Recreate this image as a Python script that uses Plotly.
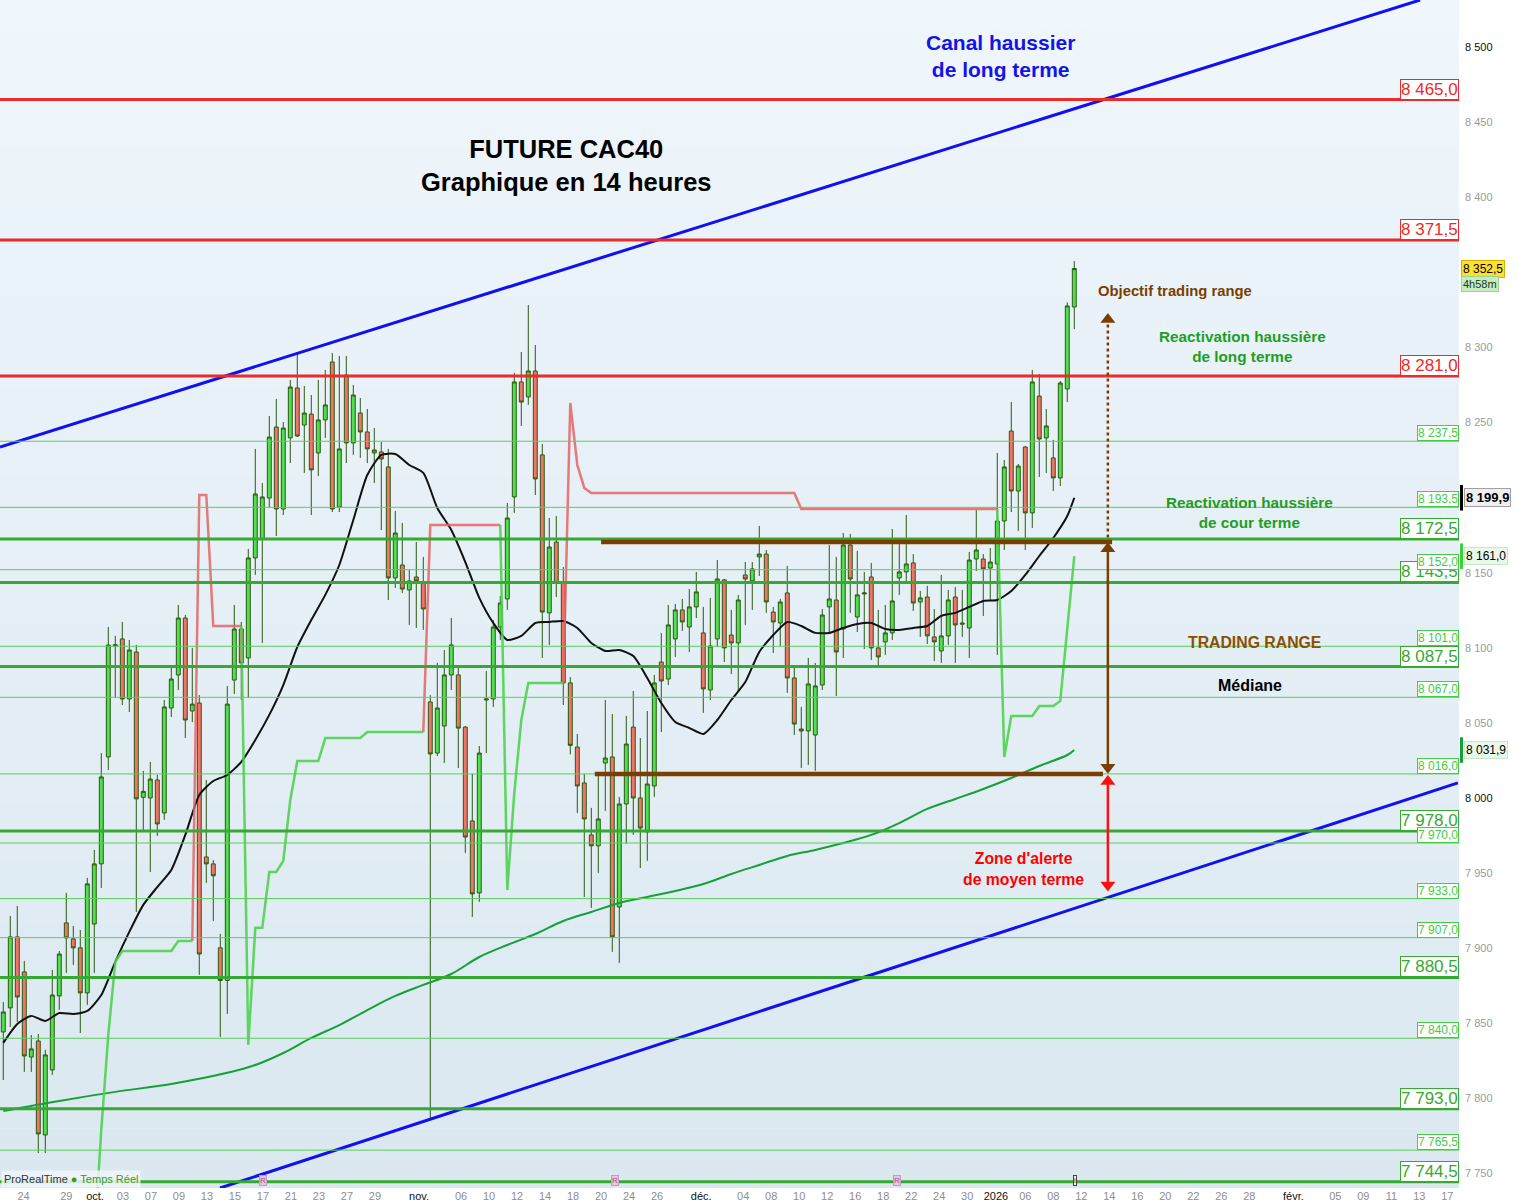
import plotly.graph_objects as go

FONT = "Liberation Sans, Arial, sans-serif"

# 14h candles, bar 0 = 22 sept. 2025 ... bar 153 = 9 janv. 2026 (bar index on the x axis)
opens = [
    7844.2, 7860.2, 7907.5, 7884.2, 7827.5, 7838.2, 7775.6, 7818.9, 7868.2, 7916.8,
    7906.2, 7900.2, 7870.2, 7916.1, 7956.1, 8027.3, 8101.2, 8105.9, 8065.9, 8097.2,
    8000.4, 8000.0, 8012.0, 7990.0, 8059.9, 8081.9, 8119.8, 8057.9, 8063.2, 7960.7,
    7956.1, 7900.2, 7878.5, 8078.5, 8112.5, 8093.2, 8159.8, 8172.4, 8199.7, 8247.0,
    8192.4, 8239.7, 8273.0, 8248.3, 8255.6, 8229.7, 8251.7, 8290.3, 8193.7, 8281.6,
    8236.4, 8256.3, 8243.7, 8229.7, 8230.4, 8220.4, 8146.5, 8155.1, 8138.5, 8147.1,
    8143.8, 8063.9, 8029.9, 8047.9, 8081.9, 8081.9, 8047.2, 7984.7, 7936.8, 8065.2,
    8065.9, 8113.8, 8132.5, 8200.4, 8277.0, 8267.0, 8284.3, 8228.4, 8123.2, 8170.4,
    8143.1, 8076.6, 8033.9, 8010.0, 7975.4, 7968.1, 8023.3, 8027.3, 7927.4, 7996.0,
    8047.2, 8000.0, 7977.4, 8008.0, 8090.5, 8079.2, 8105.9, 8125.2, 8113.8, 8127.2,
    8109.9, 8071.9, 8105.9, 8145.2, 8108.5, 8103.2, 8148.5, 8144.5, 8160.5, 8162.4,
    8123.8, 8116.5, 8136.5, 8079.9, 8045.9, 8044.6, 8041.9, 8075.2, 8127.2, 8131.8,
    8112.5, 8168.4, 8120.5, 8135.8, 8147.1, 8099.9, 8103.9, 8109.9, 8146.5, 8150.5,
    8156.5, 8130.5, 8133.8, 8107.2, 8097.9, 8107.9, 8133.8, 8116.5, 8113.2, 8159.1,
    8159.1, 8153.1, 8155.8, 8184.4, 8244.3, 8204.4, 8233.7, 8189.8, 8267.6, 8239.7,
    8226.4, 8213.1, 8272.3, 8326.9,
]
highs = [
    7864.2, 7921.4, 7928.1, 7891.5, 7842.2, 7842.9, 7832.2, 7885.5, 7898.1, 7936.8,
    7914.8, 7912.1, 7946.8, 7965.4, 8029.9, 8113.8, 8107.9, 8117.2, 8105.2, 8101.9,
    8018.0, 8024.0, 8015.3, 8065.2, 8088.5, 8128.5, 8121.8, 8099.9, 8068.5, 8012.0,
    7958.7, 7909.5, 8074.5, 8128.5, 8117.2, 8165.8, 8232.4, 8209.7, 8254.3, 8265.6,
    8250.3, 8278.3, 8296.9, 8274.3, 8268.3, 8278.3, 8285.0, 8296.3, 8294.3, 8294.3,
    8275.0, 8266.3, 8259.0, 8246.3, 8237.0, 8232.4, 8191.1, 8183.1, 8151.8, 8170.4,
    8160.5, 8068.5, 8089.9, 8098.5, 8119.8, 8088.5, 8047.9, 8016.0, 8034.6, 8084.5,
    8118.5, 8134.5, 8196.4, 8283.0, 8296.9, 8328.2, 8301.6, 8235.7, 8186.4, 8187.7,
    8153.8, 8080.5, 8042.6, 8016.0, 7993.4, 8016.0, 8065.2, 8055.9, 8000.7, 8054.6,
    8071.2, 8039.9, 8057.9, 8081.9, 8109.9, 8128.5, 8129.2, 8132.5, 8139.1, 8150.5,
    8127.2, 8133.2, 8158.4, 8145.8, 8125.2, 8135.2, 8157.1, 8157.1, 8181.1, 8165.1,
    8127.2, 8132.5, 8154.5, 8088.5, 8060.6, 8093.2, 8089.9, 8125.8, 8168.4, 8160.5,
    8176.4, 8175.8, 8164.5, 8150.5, 8156.5, 8125.2, 8128.5, 8179.1, 8169.1, 8188.4,
    8162.4, 8137.8, 8141.2, 8125.8, 8148.5, 8138.5, 8140.5, 8138.5, 8163.8, 8191.7,
    8162.4, 8166.4, 8229.7, 8225.0, 8263.6, 8222.4, 8234.4, 8285.0, 8282.3, 8259.0,
    8238.4, 8277.6, 8330.0, 8357.5,
]
lows = [
    7812.2, 7847.5, 7850.9, 7817.6, 7817.6, 7763.6, 7763.6, 7815.6, 7858.9, 7883.5,
    7888.8, 7843.5, 7862.2, 7883.5, 7940.1, 8018.6, 8066.5, 8061.9, 8057.2, 7924.1,
    7977.4, 7950.7, 7974.7, 7985.4, 8053.9, 8071.9, 8039.9, 8050.5, 7882.2, 7943.4,
    7918.1, 7840.9, 7856.2, 8069.2, 8065.2, 8066.5, 8148.5, 8103.2, 8193.1, 8174.4,
    8188.4, 8223.0, 8240.3, 8216.4, 8188.4, 8214.4, 8239.7, 8190.4, 8190.4, 8223.0,
    8228.4, 8226.4, 8223.0, 8209.7, 8178.4, 8131.8, 8139.8, 8136.5, 8115.2, 8113.2,
    8111.9, 7786.9, 8027.9, 8023.3, 8071.9, 8019.9, 7963.4, 7920.8, 7930.8, 8029.9,
    8060.6, 8105.2, 8125.2, 8189.8, 8247.7, 8261.7, 8201.7, 8093.2, 8101.9, 8133.8,
    8061.9, 8029.0, 7990.0, 7934.1, 7926.8, 7950.1, 7991.4, 7897.5, 7890.2, 7969.4,
    7975.4, 7953.4, 7958.1, 8000.7, 8043.9, 8075.2, 8093.9, 8111.2, 8097.2, 8119.8,
    8056.6, 8065.2, 8100.5, 8090.5, 8082.5, 8070.6, 8115.2, 8125.2, 8147.8, 8123.2,
    8096.5, 8101.2, 8069.9, 8041.9, 8019.9, 8022.0, 8018.0, 8071.9, 8109.9, 8067.9,
    8093.2, 8123.2, 8110.5, 8099.2, 8091.9, 8087.2, 8095.2, 8105.2, 8135.2, 8143.1,
    8124.5, 8107.2, 8102.5, 8091.2, 8089.9, 8101.9, 8089.9, 8107.2, 8093.2, 8151.1,
    8121.2, 8131.8, 8095.2, 8165.1, 8190.4, 8177.8, 8165.1, 8179.8, 8213.7, 8216.4,
    8204.4, 8207.7, 8263.6, 8312.2,
]
closes = [
    7857.5, 7907.5, 7867.5, 7828.2, 7832.9, 7776.3, 7828.9, 7868.8, 7896.1, 7906.8,
    7900.2, 7870.2, 7942.8, 7956.1, 8014.0, 8101.8, 8102.0, 8065.9, 8098.5, 7999.4,
    8004.4, 8012.6, 7982.7, 8060.6, 8079.2, 8119.8, 8051.9, 8062.5, 7896.1, 7956.1,
    7948.2, 7878.5, 8062.5, 8112.5, 8089.9, 8159.8, 8202.4, 8200.4, 8240.3, 8192.4,
    8246.3, 8273.6, 8241.0, 8256.3, 8218.4, 8251.7, 8261.7, 8192.4, 8232.4, 8236.4,
    8268.3, 8243.7, 8232.4, 8231.7, 8225.7, 8146.5, 8176.4, 8139.1, 8144.5, 8144.5,
    8125.8, 8029.3, 8059.9, 8081.9, 8101.9, 8046.5, 7974.0, 7936.1, 8029.9, 8065.9,
    8113.8, 8129.8, 8186.4, 8277.0, 8263.6, 8284.3, 8212.4, 8123.8, 8167.1, 8143.1,
    8076.6, 8035.0, 8008.0, 7986.0, 7968.1, 7986.0, 8026.6, 7907.5, 7996.0, 8035.9,
    8000.0, 7980.0, 8009.3, 8076.6, 8077.9, 8115.2, 8125.2, 8117.2, 8127.2, 8137.2,
    8072.6, 8101.2, 8145.8, 8099.9, 8103.2, 8131.8, 8145.8, 8152.5, 8162.4, 8130.5,
    8117.2, 8130.5, 8079.9, 8049.2, 8044.6, 8075.9, 8074.6, 8121.8, 8132.5, 8097.2,
    8168.4, 8145.8, 8135.2, 8136.5, 8099.9, 8093.9, 8109.9, 8131.2, 8150.5, 8155.8,
    8129.8, 8133.2, 8107.9, 8103.9, 8107.9, 8131.8, 8115.2, 8115.8, 8158.4, 8165.1,
    8152.5, 8157.1, 8184.4, 8220.4, 8204.4, 8221.0, 8189.8, 8277.0, 8239.0, 8247.7,
    8213.1, 8276.3, 8327.6, 8352.5,
]

# trailing stop line (one value per bar, None = below the visible range)
stop_line = [
    None, None, None, None, None, None, None, None, None, None,
    None, None, None, 7705.0, 7778.9, 7842.2, 7890.8, 7898.1, 7898.1, 7898.1,
    7898.1, 7898.1, 7898.1, 7898.1, 7898.1, 7904.8, 7904.8, 7904.8, 8201.7, 8201.7,
    8114.5, 8114.5, 8114.5, 8114.5, 8114.5, 7835.5, 7913.5, 7913.5, 7950.7, 7950.7,
    7958.1, 7998.7, 8024.6, 8024.6, 8024.6, 8024.6, 8039.9, 8039.9, 8039.9, 8039.9,
    8039.9, 8039.9, 8043.9, 8043.9, 8043.9, 8043.9, 8043.9, 8043.9, 8043.9, 8043.9,
    8043.9, 8181.8, 8181.8, 8181.8, 8181.8, 8181.8, 8181.8, 8181.8, 8181.8, 8181.8,
    8181.8, 8181.8, 7938.8, 8003.3, 8051.9, 8076.6, 8076.6, 8076.6, 8076.6, 8076.6,
    8076.6, 8263.0, 8221.7, 8206.4, 8203.1, 8203.1, 8203.1, 8203.1, 8203.1, 8203.1,
    8203.1, 8203.1, 8203.1, 8203.1, 8203.1, 8203.1, 8203.1, 8203.1, 8203.1, 8203.1,
    8203.1, 8203.1, 8203.1, 8203.1, 8203.1, 8203.1, 8203.1, 8203.1, 8203.1, 8203.1,
    8203.1, 8203.1, 8203.1, 8203.1, 8192.4, 8192.4, 8192.4, 8192.4, 8192.4, 8192.4,
    8192.4, 8192.4, 8192.4, 8192.4, 8192.4, 8192.4, 8192.4, 8192.4, 8192.4, 8192.4,
    8192.4, 8192.4, 8192.4, 8192.4, 8192.4, 8192.4, 8192.4, 8192.4, 8192.4, 8192.4,
    8192.4, 8192.4, 8192.4, 8027.3, 8054.6, 8054.6, 8054.6, 8054.6, 8061.2, 8061.2,
    8061.2, 8064.6, 8112.0, 8161.0,
]

# short moving average (black), read every second bar
ma_short_x = list(range(0, 153, 2)) + [153]
ma_short = [
    7836.9, 7849.5, 7854.9, 7851.5, 7856.8, 7856.2, 7858.2, 7868.8, 7890.8, 7910.8,
    7928.8, 7940.7, 7952.1, 7975.4, 8002.0, 8011.3, 8015.3, 8024.0, 8038.6, 8055.3,
    8075.2, 8100.5, 8118.5, 8135.2, 8155.1, 8185.1, 8215.0, 8228.4, 8229.0, 8221.7,
    8216.4, 8193.1, 8178.4, 8157.1, 8133.2, 8116.5, 8105.2, 8107.9, 8116.5, 8117.2,
    8117.8, 8113.2, 8103.2, 8097.9, 8098.5, 8094.5, 8079.9, 8063.2, 8050.6, 8046.6,
    8042.6, 8051.9, 8065.2, 8077.2, 8097.2, 8108.5, 8117.2, 8114.5, 8109.9, 8109.9,
    8113.2, 8115.8, 8116.5, 8112.5, 8111.9, 8113.2, 8114.5, 8121.2, 8123.2, 8127.2,
    8131.2, 8131.8, 8137.8, 8148.5, 8161.1, 8173.1, 8187.7, 8199.9,
]

# long moving average (dark green)
ma_long_x = [0, 8, 16, 24, 32, 36, 40, 44, 48, 52, 56, 60, 64, 68, 72, 76, 80, 84,
             88, 92, 96, 100, 104, 108, 112, 116, 120, 124, 128, 132, 136, 140, 144,
             148, 152, 153]
ma_long = [
    7791.6, 7798.3, 7804.3, 7809.6, 7817.0, 7822.2, 7830.2, 7840.2, 7848.8, 7858.8,
    7868.2, 7875.5, 7882.8, 7894.1, 7902.1, 7909.4, 7918.1, 7924.1, 7930.1, 7934.1,
    7938.1, 7942.7, 7949.4, 7955.4, 7961.4, 7965.4, 7970.0, 7975.4, 7983.3, 7992.7,
    7999.3, 8006.0, 8013.3, 8021.3, 8028.6, 8031.9,
]

# horizontal levels
red_levels = [8465.0, 8371.5, 8281.0]
major_levels = [8172.5, 8143.5, 8087.5, 7978.0, 7880.5, 7793.0, 7744.5]
minor_levels = [8237.5, 8193.5, 8152.0, 8101.0, 8067.0, 8016.0, 7970.0, 7933.0,
                7907.0, 7840.0, 7765.5]

# long-term bullish channel (bar index, price)
channel_top_x = [-0.47, 202.4]
channel_top_y = [8233.7, 8531.3]
channel_bot_x = [30.96, 207.8]
channel_bot_y = [7740.3, 8010.0]

# trading range
range_top = 8170.5
range_top_x = [85.4, 158.4]
range_bot = 8016.0
range_bot_x = [84.5, 157.1]
arrow_x = 157.8
target = 8323.0

# x axis labels (bar index)
tick_pos = [2.9, 9.0, 13.1, 17.1, 21.1, 25.1, 29.1, 33.1, 37.1, 41.1, 45.1, 49.1,
            53.1, 59.4, 65.4, 69.4, 73.4, 77.4, 81.4, 85.4, 89.4, 93.4, 99.7, 105.7,
            109.7, 113.7, 117.7, 121.7, 125.7, 129.7, 133.7, 137.7, 141.8, 146.0,
            150.0, 154.0, 158.0, 162.0, 166.0, 170.0, 174.0, 178.0, 184.3, 190.3,
            194.3, 198.3, 202.3, 206.3]
tick_text = ["24", "29", "oct.", "03", "07", "09", "13", "15", "17", "21", "23", "27",
             "29", "nov.", "06", "10", "12", "14", "18", "20", "24", "26", "déc.", "04",
             "08", "10", "12", "16", "18", "22", "24", "30", "2026", "06", "08", "12",
             "14", "16", "20", "22", "26", "28", "févr.", "05", "09", "11", "13", "17"]
event_x = [37.1, 87.4, 127.7]

Y_MIN, Y_MAX = 7740.3, 8531.3
X_MIN, X_MAX = -0.47, 207.96

BROWN = "#7a3e00"
RED = "#ec2b2b"
GREEN_THICK = "#36a933"
GREEN_THIN = "#58d058"
BLUE = "#1010f0"


def fr(v, nd=1):
    s = f"{v:,.{nd}f}"
    return s.replace(",", " ").replace(".", ",")


n = len(closes)
bars = list(range(n))
up = [s is not None and s <= c for s, c in zip(stop_line, closes)]
stop_up, stop_dn = [None] * n, [None] * n
for i, s in enumerate(stop_line):
    if s is None:
        continue
    nxt = up[i + 1] if i + 1 < n else up[i]
    if up[i] or nxt:
        stop_up[i] = s
    if (not up[i]) or (not nxt):
        stop_dn[i] = s

fig = go.Figure()

fig.add_trace(go.Candlestick(
    x=bars, open=opens, high=highs, low=lows, close=closes,
    increasing=dict(line=dict(color="#2b5a10", width=1), fillcolor="#4fe04f"),
    decreasing=dict(line=dict(color="#2b5a10", width=1), fillcolor="#f27468"),
    whiskerwidth=0, hoverinfo="skip",
))
fig.add_trace(go.Scatter(x=ma_long_x, y=ma_long, mode="lines",
                         line=dict(color="#17a03a", width=2, shape="spline"),
                         hoverinfo="skip"))
fig.add_trace(go.Scatter(x=ma_short_x, y=ma_short, mode="lines",
                         line=dict(color="#111111", width=2, shape="spline", smoothing=0.6),
                         hoverinfo="skip"))
fig.add_trace(go.Scatter(x=bars, y=stop_dn, mode="lines",
                         line=dict(color="rgba(228,100,100,0.85)", width=2.5),
                         connectgaps=False, hoverinfo="skip"))
fig.add_trace(go.Scatter(x=bars, y=stop_up, mode="lines",
                         line=dict(color="rgba(80,210,80,0.9)", width=2.5),
                         connectgaps=False, hoverinfo="skip"))
fig.add_trace(go.Scatter(x=channel_top_x, y=channel_top_y, mode="lines",
                         line=dict(color=BLUE, width=3), hoverinfo="skip"))
fig.add_trace(go.Scatter(x=channel_bot_x, y=channel_bot_y, mode="lines",
                         line=dict(color=BLUE, width=3), hoverinfo="skip"))

# background gradient of the plot area
shapes = []
nb = 40
top_c, bot_c = (239, 246, 252), (219, 232, 240)
for k in range(nb):
    t = k / (nb - 1)
    c = tuple(round(bot_c[j] + (top_c[j] - bot_c[j]) * t) for j in range(3))
    shapes.append(dict(type="rect", xref="paper", yref="paper", x0=0, x1=1,
                       y0=k / nb, y1=(k + 1) / nb, layer="below",
                       fillcolor=f"rgb{c}", line=dict(width=0)))

for v in minor_levels:
    shapes.append(dict(type="line", xref="paper", yref="y", x0=0, x1=1, y0=v, y1=v,
                       line=dict(color=GREEN_THIN, width=1)))
for v in major_levels:
    shapes.append(dict(type="line", xref="paper", yref="y", x0=0, x1=1, y0=v, y1=v,
                       line=dict(color=GREEN_THICK, width=3)))
for v in red_levels:
    shapes.append(dict(type="line", xref="paper", yref="y", x0=0, x1=1, y0=v, y1=v,
                       line=dict(color=RED, width=3)))

shapes.append(dict(type="line", xref="x", yref="y", x0=range_top_x[0], x1=range_top_x[1],
                   y0=range_top, y1=range_top, line=dict(color=BROWN, width=4.5)))
shapes.append(dict(type="line", xref="x", yref="y", x0=range_bot_x[0], x1=range_bot_x[1],
                   y0=range_bot, y1=range_bot, line=dict(color=BROWN, width=4.5)))
# arrows
shapes.append(dict(type="line", xref="x", yref="y", x0=arrow_x, x1=arrow_x,
                   y0=range_top - 5, y1=target - 6,
                   line=dict(color=BROWN, width=2.5, dash="dot")))
shapes.append(dict(type="line", xref="x", yref="y", x0=arrow_x, x1=arrow_x,
                   y0=range_top - 5, y1=range_bot + 5, line=dict(color=BROWN, width=2.5)))
shapes.append(dict(type="line", xref="x", yref="y", x0=arrow_x, x1=arrow_x,
                   y0=range_bot - 5, y1=7941.0, line=dict(color="#ff1010", width=2.5)))

fig.add_trace(go.Scatter(
    x=[arrow_x] * 5,
    y=[target - 4.5, range_top - 4.5, range_bot + 4.5, range_bot - 5, 7942.0],
    mode="markers",
    marker=dict(size=13,
                symbol=["triangle-up", "triangle-up", "triangle-down", "triangle-up",
                        "triangle-down"],
                color=[BROWN, BROWN, BROWN, "#ff1010", "#ff1010"],
                line=dict(width=0)),
    hoverinfo="skip"))

# current value markers on the price scale (left bars)
px = 1 / 1459
for v, col in [(8199.9, "#000000"), (8161.0, "#3ccf3c"), (8031.9, "#13a03a")]:
    h = 8.5
    shapes.append(dict(type="rect", xref="paper", yref="y", x0=1 + px, x1=1 + 4 * px,
                       y0=v - h, y1=v + h, fillcolor=col, line=dict(width=0)))

annotations = []


def label(v, txt, size, col, bg="white"):
    annotations.append(dict(xref="paper", yref="y", x=1, y=v, xanchor="right",
                            yanchor="bottom", text=txt, showarrow=False,
                            font=dict(family=FONT, size=size, color=col),
                            bgcolor=bg, bordercolor=col, borderwidth=1, borderpad=0))


for v in red_levels:
    label(v, fr(v), 17, RED)
for v in major_levels:
    label(v, fr(v), 17, GREEN_THICK)
for v in minor_levels:
    label(v, fr(v), 12, "#44cc44")

axis_boxes = [
    (8352.5, fr(8352.5), "#ffe030", "#d8b000", "#000000", 12),
    (8342.0, "4h58m", "#c6ecc0", "#98d494", "#1a3a1a", 11),
    (8199.9, "<b>" + fr(8199.9) + "</b>", "#f0f0f0", "#a0a0a0", "#000000", 13),
    (8161.0, fr(8161.0), "#eaf8ea", "#c6eac6", "#000000", 12),
    (8031.9, fr(8031.9), "#eaf8ea", "#c6eac6", "#000000", 12),
]
for v, txt, bg, bc, fc, sz in axis_boxes:
    xoff = 5 * px if v in (8199.9, 8161.0, 8031.9) else 2 * px
    annotations.append(dict(xref="paper", yref="y", x=1 + xoff, y=v, xanchor="left",
                            yanchor="middle", text=txt, showarrow=False,
                            font=dict(family=FONT, size=sz, color=fc),
                            bgcolor=bg, bordercolor=bc, borderwidth=1, borderpad=1))

texts = [
    (142.4, 8494.0, "<b>Canal haussier<br>de long terme</b>", 21, "#1414e6", "center"),
    (80.5, 8421.4, "<b>FUTURE CAC40<br>Graphique en 14 heures</b>", 25.5, "#000000", "center"),
    (156.1, 8337.6, "<b>Objectif trading range</b>", 14.8, BROWN, "left"),
    (177.1, 8300.6, "<b>Reactivation haussière<br>de long terme</b>", 15.3, "#1f9e1f", "center"),
    (178.1, 8190.1, "<b>Reactivation haussière<br>de cour terme</b>", 15.3, "#1f9e1f", "center"),
    (178.8, 8103.2, "<b>TRADING RANGE</b>", 15.8, "#8a5000", "center"),
    (178.1, 8074.6, "<b>Médiane</b>", 16, "#000000", "center"),
    (145.7, 7952.4, "<b>Zone d'alerte<br>de moyen terme</b>", 15.8, "#ff0000", "center"),
]
for x, y, txt, sz, col, anc in texts:
    annotations.append(dict(x=x, y=y, xref="x", yref="y", text=txt, showarrow=False,
                            xanchor=anc, yanchor="middle",
                            font=dict(family=FONT, size=sz, color=col)))

for x in event_x:
    annotations.append(dict(x=x, y=0.002, xref="x", yref="paper", text="R",
                            showarrow=False, yanchor="bottom",
                            font=dict(family=FONT, size=8, color="#a0508a"),
                            bgcolor="#e8c4e2", bordercolor="#c89ac0", borderwidth=1,
                            borderpad=0))
annotations.append(dict(x=153.1, y=0.002, xref="x", yref="paper", text="i",
                        showarrow=False, yanchor="bottom",
                        font=dict(family=FONT, size=8, color="#333333"),
                        bgcolor="#eef4f8", bordercolor="#444444", borderwidth=1,
                        borderpad=0))
annotations.append(dict(x=0.001, y=0.0, xref="paper", yref="paper", xanchor="left",
                        yanchor="bottom", showarrow=False,
                        text="ProRealTime <span style='color:#3a9a14'>●</span> "
                             "<span style='color:#3a9a14'>Temps Réel</span>",
                        font=dict(family=FONT, size=11, color="#333333"),
                        bgcolor="rgba(240,246,250,0.85)", borderpad=2))

months = {"oct.", "nov.", "déc.", "2026", "févr."}
x_labels = [f"<span style='color:#111111'>{t}</span>" if t in months else t
            for t in tick_text]

y_vals = list(range(7750, 8501, 50))
y_labels = [f"<span style='color:#111111'>{fr(v, 0)}</span>" if v % 500 == 0
            else fr(v, 0) for v in y_vals]

fig.update_layout(
    width=1517, height=1203,
    margin=dict(l=0, r=58, t=0, b=15),
    paper_bgcolor="white", plot_bgcolor="#e6f0f6",
    showlegend=False, boxgap=0.2,
    shapes=shapes, annotations=annotations,
    font=dict(family=FONT),
)
fig.update_xaxes(range=[X_MIN, X_MAX], tickvals=tick_pos, ticktext=x_labels,
                 tickfont=dict(family=FONT, size=11, color="#8e8e8e"),
                 showgrid=False, zeroline=False, showline=False, ticks="",
                 rangeslider=dict(visible=False), automargin=False)
fig.update_yaxes(range=[Y_MIN, Y_MAX], side="right", tickvals=y_vals, ticktext=y_labels,
                 tickfont=dict(family=FONT, size=11, color="#9a9a9a"),
                 showgrid=False, zeroline=False, showline=False, ticks="",
                 ticklabelstandoff=5, automargin=False)

fig.write_html("out.html", config={"displayModeBar": False},
               post_script="document.body.style.margin='0';"
                           "document.body.style.overflow='hidden';")
